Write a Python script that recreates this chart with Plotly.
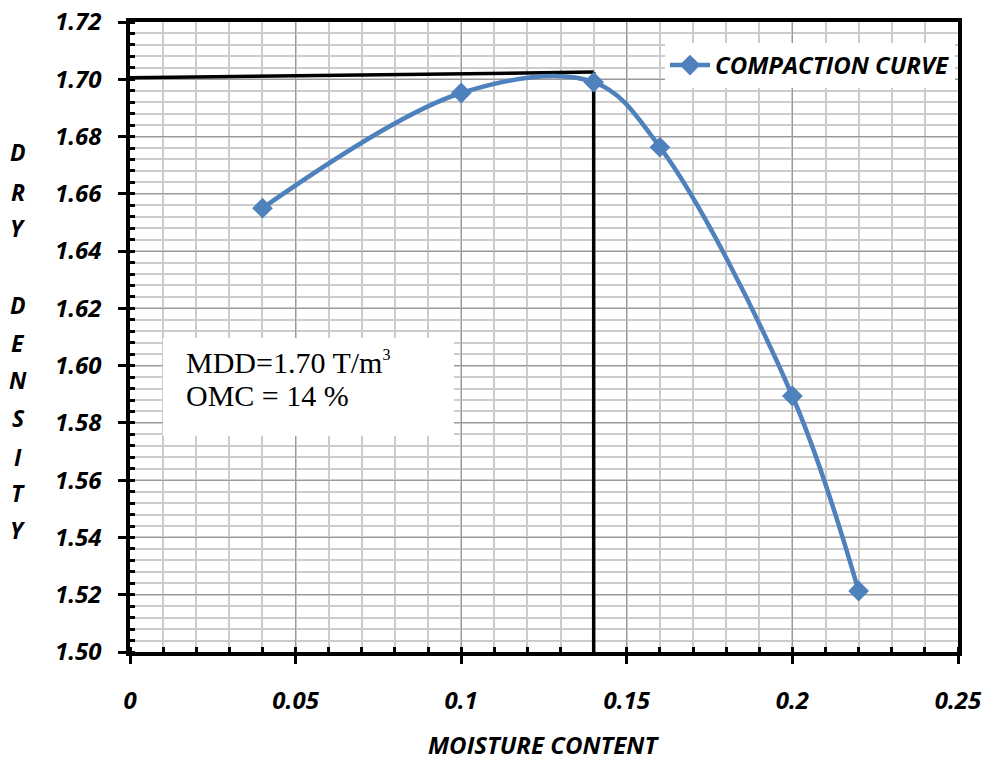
import plotly.graph_objects as go

# Data
moisture = [0.04, 0.10, 0.14, 0.16, 0.20, 0.22]
dry_density = [1.655, 1.6952, 1.699, 1.6763, 1.5894, 1.5213]
series_name = "COMPACTION CURVE"

mdd_line_x = [0.0, 0.14]
mdd_line_y = [1.7005, 1.7025]
omc_line_x = [0.14, 0.14]
omc_line_y = [1.7025, 1.50]

x_tickvals = [0, 0.05, 0.10, 0.15, 0.20, 0.25]
x_ticktext = ["0", "0.05", "0.1", "0.15", "0.2", "0.25"]
y_tickvals = [1.50, 1.52, 1.54, 1.56, 1.58, 1.60, 1.62, 1.64, 1.66, 1.68, 1.70, 1.72]
y_ticktext = [f"{v:.2f}" for v in y_tickvals]

y_title_letters = ["D", "R", "Y", "D", "E", "N", "S", "I", "T", "Y"]
y_title_pix = [152, 192, 228, 305, 343, 380, 418, 457, 493, 530]

x_title = "MOISTURE CONTENT"
note_line1 = "MDD=1.70 T/m<sup><span style='font-size:16px'>3</span></sup>"
note_line2 = "OMC = 14 %"

BLUE = "#4F81BD"
lab_font = dict(family="Open Sans", size=24, color="black", weight="bold", style="italic")

fig = go.Figure()
fig.add_trace(go.Scatter(x=mdd_line_x, y=mdd_line_y, mode="lines",
                         line=dict(color="black", width=3.5), showlegend=False, hoverinfo="skip"))
fig.add_trace(go.Scatter(x=omc_line_x, y=omc_line_y, mode="lines",
                         line=dict(color="black", width=3.5), showlegend=False, hoverinfo="skip"))
fig.add_trace(go.Scatter(x=moisture, y=dry_density, mode="lines+markers", name=series_name,
                         line=dict(color=BLUE, width=4.5, shape="spline", smoothing=1.0),
                         marker=dict(symbol="diamond", size=16, color=BLUE)))

# plot-area geometry in pixels (for paper coordinates)
L, R, T, B = 130, 958, 22, 652
W, H = R - L, B - T

fig.add_shape(type="rect", xref="paper", yref="paper",
              x0=(163 - L) / W, x1=(454 - L) / W, y0=(B - 436) / H, y1=(B - 338) / H,
              fillcolor="white", line=dict(width=0), layer="above")
fig.add_annotation(xref="paper", yref="paper", x=(184 - L) / W, y=(B - 362) / H,
                   xanchor="left", yanchor="middle", text=note_line1, showarrow=False,
                   font=dict(family="Liberation Serif", size=30, color="black"))
fig.add_annotation(xref="paper", yref="paper", x=(184 - L) / W, y=(B - 395) / H,
                   xanchor="left", yanchor="middle", text=note_line2, showarrow=False,
                   font=dict(family="Liberation Serif", size=30, color="black"))

for letter, py in zip(y_title_letters, y_title_pix):
    fig.add_annotation(xref="paper", yref="paper", x=(18 - L) / W, y=(B - py) / H,
                       xanchor="center", yanchor="middle", text=letter, showarrow=False,
                       font=dict(family="Open Sans", size=23, color="black", weight="bold", style="italic"))

fig.add_annotation(xref="paper", yref="paper", x=(543 - L) / W, y=(B - 744) / H,
                   xanchor="center", yanchor="middle", text=x_title, showarrow=False,
                   borderpad=0, font=lab_font)

fig.update_xaxes(range=[0, 0.25], tickvals=x_tickvals, ticktext=x_ticktext, automargin=False,
                 showline=True, linecolor="black", linewidth=3.5, mirror=True,
                 ticks="outside", ticklen=8, tickwidth=3, tickcolor="black",
                 ticklabelstandoff=16, tickfont=lab_font,
                 showgrid=True, gridcolor="#9a9a9a", gridwidth=1, zeroline=False,
                 minor=dict(dtick=0.01, ticks="inside", ticklen=5, tickwidth=3, tickcolor="black",
                            showgrid=True, gridcolor="#cccccc", gridwidth=2))
fig.update_yaxes(range=[1.50, 1.72], tickvals=y_tickvals, ticktext=y_ticktext, automargin=False,
                 showline=True, linecolor="black", linewidth=3.5, mirror=True,
                 ticks="outside", ticklen=8, tickwidth=3, tickcolor="black",
                 ticklabelstandoff=12, tickfont=lab_font,
                 showgrid=True, gridcolor="#9a9a9a", gridwidth=1, zeroline=False,
                 minor=dict(dtick=0.004, ticks="inside", ticklen=5, tickwidth=3, tickcolor="black",
                            showgrid=True, gridcolor="#cccccc", gridwidth=2))

fig.update_layout(
    width=985, height=761,
    margin=dict(l=L, r=985 - R, t=T, b=761 - B),
    paper_bgcolor="white", plot_bgcolor="white",
    showlegend=True,
    legend=dict(x=(665 - L) / W, y=(B - 43) / H, xanchor="left", yanchor="top",
                bgcolor="white", borderwidth=0, font=lab_font,
                itemwidth=40),
)

fig.write_html("out.html")
